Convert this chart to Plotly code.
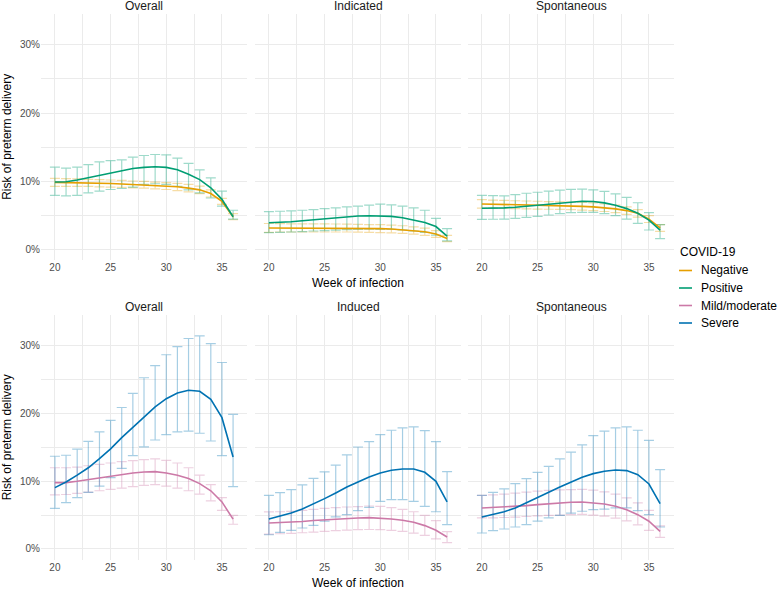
import plotly.graph_objects as go

# ---------------- data (risk of preterm delivery, %) ----------------
weeks = [20, 21, 22, 23, 24, 25, 26, 27, 28, 29, 30, 31, 32, 33, 34, 35, 36]

series_names = ["Negative", "Positive", "Mild/moderate", "Severe"]
series_colors = ["#E69F00", "#009E73", "#CC79A7", "#0072B2"]
series_bar_colors = ["rgba(230,159,0,0.35)", "rgba(0,158,115,0.38)",
                     "rgba(204,121,167,0.35)", "rgba(0,114,178,0.35)"]

top_panels = ["Overall", "Indicated", "Spontaneous"]
bottom_panels = ["Overall", "Induced", "Spontaneous"]

# Top row: Negative
neg_overall_mean = [9.8, 9.78, 9.75, 9.72, 9.68, 9.63, 9.57, 9.5, 9.43, 9.35, 9.25, 9.15, 8.95, 8.7, 8.15, 7.0, 4.75]
neg_overall_lo = [9.2, 9.2, 9.2, 9.2, 9.15, 9.1, 9.05, 9.0, 8.95, 8.85, 8.75, 8.6, 8.4, 8.15, 7.65, 6.55, 4.3]
neg_overall_hi = [10.4, 10.35, 10.3, 10.25, 10.2, 10.15, 10.1, 10.0, 9.95, 9.85, 9.75, 9.65, 9.5, 9.25, 8.7, 7.45, 5.2]

neg_ind_mean = [3.1, 3.1, 3.1, 3.1, 3.1, 3.1, 3.08, 3.06, 3.04, 3.02, 3.0, 2.95, 2.85, 2.72, 2.55, 2.2, 1.55]
neg_ind_lo = [2.45, 2.5, 2.5, 2.5, 2.5, 2.5, 2.5, 2.5, 2.48, 2.45, 2.42, 2.38, 2.3, 2.18, 2.02, 1.7, 1.1]
neg_ind_hi = [3.75, 3.72, 3.7, 3.7, 3.7, 3.7, 3.68, 3.65, 3.62, 3.6, 3.58, 3.52, 3.42, 3.27, 3.08, 2.7, 2.0]

neg_spo_mean = [6.63, 6.6, 6.57, 6.53, 6.48, 6.44, 6.4, 6.37, 6.33, 6.27, 6.2, 6.08, 5.9, 5.65, 5.25, 4.4, 3.1]
neg_spo_lo = [6.0, 6.0, 6.0, 5.95, 5.9, 5.88, 5.85, 5.82, 5.78, 5.72, 5.65, 5.52, 5.35, 5.1, 4.7, 3.9, 2.6]
neg_spo_hi = [7.25, 7.2, 7.15, 7.1, 7.06, 7.02, 6.98, 6.94, 6.9, 6.84, 6.77, 6.65, 6.47, 6.2, 5.8, 4.9, 3.6]

# Top row: Positive
pos_overall_mean = [9.85, 9.9, 10.15, 10.5, 10.9, 11.2, 11.55, 11.85, 12.0, 12.1, 12.0, 11.65, 11.0, 10.2, 9.0, 7.3, 4.75]
pos_overall_lo = [7.9, 7.8, 7.9, 8.25, 8.5, 8.75, 8.9, 9.1, 9.5, 9.6, 9.5, 9.2, 8.7, 8.25, 7.5, 6.3, 4.4]
pos_overall_hi = [12.05, 11.9, 12.05, 12.4, 12.8, 13.0, 13.1, 13.5, 13.75, 13.9, 13.85, 13.35, 12.6, 11.65, 10.45, 8.5, 5.7]

pos_ind_mean = [3.87, 3.92, 4.0, 4.15, 4.3, 4.45, 4.6, 4.73, 4.85, 4.9, 4.9, 4.8, 4.6, 4.3, 3.9, 3.3, 1.9]
pos_ind_lo = [2.4, 2.45, 2.5, 2.55, 2.65, 2.7, 2.78, 2.85, 2.9, 2.92, 2.9, 2.88, 2.8, 2.65, 2.45, 2.05, 1.2]
pos_ind_hi = [5.5, 5.55, 5.6, 5.7, 5.8, 5.95, 6.05, 6.2, 6.3, 6.45, 6.6, 6.5, 6.3, 6.05, 5.7, 4.5, 3.0]

pos_spo_mean = [6.0, 6.0, 6.05, 6.15, 6.3, 6.45, 6.63, 6.8, 6.93, 7.03, 6.98, 6.78, 6.44, 5.94, 5.25, 4.26, 2.77]
pos_spo_lo = [4.36, 4.38, 4.4, 4.5, 4.65, 4.8, 5.0, 5.2, 5.35, 5.4, 5.4, 5.2, 4.9, 4.4, 3.76, 2.8, 1.53]
pos_spo_hi = [7.9, 7.85, 7.8, 8.0, 8.2, 8.35, 8.5, 8.65, 8.76, 8.8, 8.7, 8.47, 8.1, 7.6, 6.8, 5.35, 3.6]

# Bottom row: Mild/moderate
mild_overall_mean = [9.8, 9.8, 10.0, 10.25, 10.54, 10.8, 11.0, 11.23, 11.38, 11.43, 11.23, 10.9, 10.4, 9.66, 8.6, 6.95, 4.4]
mild_overall_lo = [8.0, 8.05, 8.2, 8.4, 8.6, 8.8, 9.0, 9.2, 9.4, 9.5, 9.3, 9.0, 8.6, 8.1, 7.1, 5.7, 3.65]
mild_overall_hi = [12.0, 12.0, 12.1, 12.3, 12.5, 12.7, 12.9, 13.05, 13.2, 13.3, 13.1, 12.7, 12.0, 10.9, 9.5, 7.6, 4.95]

mild_ind_mean = [3.84, 3.88, 3.94, 4.07, 4.2, 4.32, 4.43, 4.52, 4.58, 4.63, 4.58, 4.43, 4.24, 3.94, 3.45, 2.76, 1.77]
mild_ind_lo = [2.2, 2.25, 2.3, 2.4, 2.5, 2.6, 2.7, 2.78, 2.85, 2.88, 2.85, 2.75, 2.6, 2.35, 2.0, 1.5, 0.95]
mild_ind_hi = [5.47, 5.5, 5.55, 5.7, 5.85, 6.0, 6.1, 6.2, 6.25, 6.35, 6.3, 6.1, 5.85, 5.5, 4.95, 4.2, 2.55]

mild_spo_mean = [6.06, 6.12, 6.2, 6.3, 6.4, 6.55, 6.7, 6.8, 6.9, 6.95, 6.85, 6.65, 6.3, 5.8, 5.07, 4.1, 2.6]
mild_spo_lo = [4.58, 4.6, 4.65, 4.72, 4.8, 4.88, 4.95, 5.0, 5.07, 5.1, 5.0, 4.85, 4.55, 4.15, 3.55, 2.75, 1.7]
mild_spo_hi = [7.93, 8.0, 8.1, 8.25, 8.4, 8.55, 8.65, 8.72, 8.77, 8.8, 8.7, 8.45, 8.1, 7.55, 6.8, 5.7, 3.4]

# Bottom row: Severe
severe_overall_mean = [9.06, 9.9, 10.9, 12.0, 13.35, 14.8, 16.45, 18.0, 19.6, 21.0, 22.2, 23.05, 23.45, 23.3, 22.1, 19.4, 13.6]
severe_overall_lo = [6.0, 6.85, 7.6, 8.35, 9.3, 10.55, 11.9, 13.8, 15.1, 16.1, 16.9, 17.3, 17.4, 17.1, 15.95, 13.8, 9.2]
severe_overall_hi = [13.7, 13.85, 14.75, 15.9, 17.3, 19.0, 20.9, 23.0, 25.3, 27.1, 28.7, 29.9, 31.1, 31.5, 30.35, 27.55, 19.9]

severe_ind_mean = [4.43, 4.83, 5.3, 5.9, 6.65, 7.44, 8.28, 9.16, 9.9, 10.64, 11.23, 11.63, 11.82, 11.82, 11.33, 10.0, 6.95]
severe_ind_lo = [2.1, 2.46, 2.76, 3.1, 3.5, 4.1, 4.73, 5.07, 5.67, 6.16, 7.04, 7.3, 7.3, 7.04, 6.3, 5.5, 3.6]
severe_ind_hi = [7.93, 8.33, 8.77, 9.46, 10.44, 11.38, 12.4, 13.9, 15.07, 15.86, 16.9, 17.54, 17.9, 18.03, 17.5, 15.86, 11.43]

severe_spo_mean = [4.73, 5.07, 5.5, 6.06, 6.8, 7.54, 8.37, 9.16, 9.9, 10.6, 11.13, 11.48, 11.67, 11.58, 10.98, 9.6, 6.7]
severe_spo_lo = [2.36, 2.7, 2.95, 3.25, 3.6, 4.1, 4.58, 4.97, 5.3, 5.57, 5.8, 5.9, 6.06, 6.06, 5.67, 5.07, 3.25]
severe_spo_hi = [7.93, 8.37, 8.87, 9.66, 10.4, 11.33, 12.2, 13.3, 14.3, 15.37, 16.75, 17.4, 17.9, 18.03, 17.54, 16.06, 11.73]

x_ticks = [20, 25, 30, 35]
y_ticks = [0, 10, 20, 30]
y_tick_labels = ["0%", "10%", "20%", "30%"]
x_title = "Week of infection"
y_title = "Risk of preterm delivery"
legend_title = "COVID-19"

# panel index (1..6) -> list of (series index, mean, lo, hi)
panels = {
    1: [(0, neg_overall_mean, neg_overall_lo, neg_overall_hi), (1, pos_overall_mean, pos_overall_lo, pos_overall_hi)],
    2: [(0, neg_ind_mean, neg_ind_lo, neg_ind_hi), (1, pos_ind_mean, pos_ind_lo, pos_ind_hi)],
    3: [(0, neg_spo_mean, neg_spo_lo, neg_spo_hi), (1, pos_spo_mean, pos_spo_lo, pos_spo_hi)],
    4: [(2, mild_overall_mean, mild_overall_lo, mild_overall_hi), (3, severe_overall_mean, severe_overall_lo, severe_overall_hi)],
    5: [(2, mild_ind_mean, mild_ind_lo, mild_ind_hi), (3, severe_ind_mean, severe_ind_lo, severe_ind_hi)],
    6: [(2, mild_spo_mean, mild_spo_lo, mild_spo_hi), (3, severe_spo_mean, severe_spo_lo, severe_spo_hi)],
}
panel_titles = top_panels + bottom_panels

# ---------------- layout geometry ----------------
W, H = 778, 590
col_px = [(41, 247), (255, 461), (468, 674)]
row_px = [(13.7, 259.9), (314.8, 559.8)]
x_range = [18.75, 37.25]
y_range = [-1.6, 34.6]

FONT = "Liberation Sans, Arial, Helvetica, sans-serif"
GRID = "#EBEBEB"

fig = go.Figure()

def axname(i, kind):
    return kind if i == 1 else f"{kind}{i}"

# error bars first, then lines
for p in range(1, 7):
    for (si, mean, lo, hi) in panels[p]:
        fig.add_trace(go.Scatter(
            x=weeks, y=mean, mode="markers",
            marker=dict(size=1, color="rgba(0,0,0,0)"),
            error_y=dict(type="data", symmetric=False,
                         array=[h - m for h, m in zip(hi, mean)],
                         arrayminus=[m - l for m, l in zip(mean, lo)],
                         color=series_bar_colors[si], thickness=1.2, width=5),
            xaxis=axname(p, "x"), yaxis=axname(p, "y"),
            showlegend=False, hoverinfo="skip"))

for p in range(1, 7):
    for (si, mean, lo, hi) in panels[p]:
        fig.add_trace(go.Scatter(
            x=weeks, y=mean, mode="lines",
            line=dict(color=series_colors[si], width=1.6),
            name=series_names[si], showlegend=False,
            xaxis=axname(p, "x"), yaxis=axname(p, "y")))

layout = dict(
    width=W, height=H,
    margin=dict(l=0, r=0, t=0, b=0),
    paper_bgcolor="white", plot_bgcolor="white",
    font=dict(family=FONT, size=12, color="black"),
    showlegend=False,
)

annotations = []
shapes = []
for p in range(1, 7):
    r = 0 if p <= 3 else 1
    c = (p - 1) % 3
    x0, x1 = col_px[c]
    y0, y1 = row_px[r]
    layout[axname(p, "xaxis")] = dict(
        domain=[x0 / W, x1 / W], anchor=axname(p, "y"), range=x_range,
        tickvals=x_ticks, ticks="", showline=False, zeroline=False,
        showgrid=True, gridcolor=GRID, gridwidth=1,
        minor=dict(tickvals=[22.5, 27.5, 32.5], showgrid=True, gridcolor=GRID, gridwidth=0.6),
        tickfont=dict(size=10, color="#4D4D4D"))
    layout[axname(p, "yaxis")] = dict(
        domain=[1 - y1 / H, 1 - y0 / H], anchor=axname(p, "x"), range=y_range,
        tickvals=y_ticks, ticktext=y_tick_labels, showticklabels=(c == 0),
        ticks="", showline=False, zeroline=False,
        showgrid=True, gridcolor=GRID, gridwidth=1,
        minor=dict(tickvals=[5, 15, 25], showgrid=True, gridcolor=GRID, gridwidth=0.6),
        tickfont=dict(size=10, color="#4D4D4D"))
    # strip title
    annotations.append(dict(text=panel_titles[p - 1], xref="paper", yref="paper",
                            x=(x0 + x1) / 2 / W, y=1 - (y0 - 7.5) / H,
                            xanchor="center", yanchor="middle", showarrow=False,
                            font=dict(size=12, color="#1A1A1A")))

for r, (y0, y1) in enumerate(row_px):
    annotations.append(dict(text=x_title, xref="paper", yref="paper",
                            x=(col_px[1][0] + col_px[1][1]) / 2 / W, y=1 - (y1 + 23.5) / H,
                            xanchor="center", yanchor="middle", showarrow=False,
                            font=dict(size=12, color="black")))
    annotations.append(dict(text=y_title, xref="paper", yref="paper",
                            x=7 / W, y=1 - (y0 + y1) / 2 / H, textangle=-90,
                            xanchor="center", yanchor="middle", showarrow=False,
                            font=dict(size=12, color="black")))

# legend (ggplot-style: short key lines)
leg_x0 = 678
annotations.append(dict(text=legend_title, xref="paper", yref="paper",
                        x=leg_x0 / W, y=1 - 251.5 / H, xanchor="left", yanchor="middle",
                        showarrow=False, font=dict(size=12, color="black")))
leg_item_y = [270.5, 288, 305.5, 323]
for si, name in enumerate(series_names):
    yy = 1 - leg_item_y[si] / H
    shapes.append(dict(type="line", xref="paper", yref="paper",
                       x0=(leg_x0 + 1) / W, x1=(leg_x0 + 14) / W, y0=yy, y1=yy,
                       line=dict(color=series_colors[si], width=1.6)))
    annotations.append(dict(text=name, xref="paper", yref="paper",
                            x=699 / W, y=yy, xanchor="left", yanchor="middle",
                            showarrow=False, font=dict(size=12, color="black")))

layout["annotations"] = annotations
layout["shapes"] = shapes
fig.update_layout(**layout)
fig.write_html("out.html", config={"displayModeBar": False},
               post_script="document.body.style.margin='0px';document.body.style.overflow='hidden';")
